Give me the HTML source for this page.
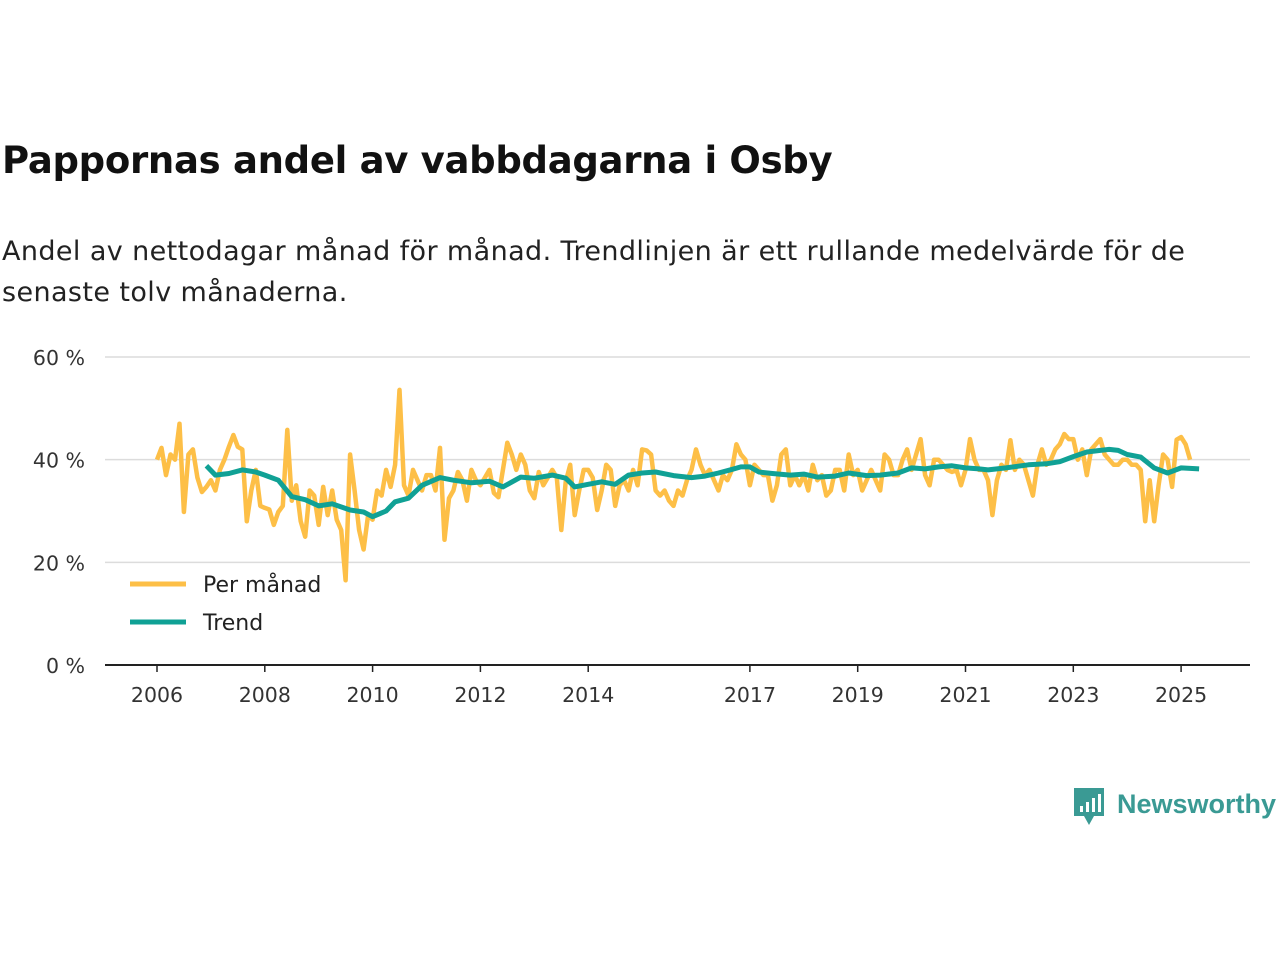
<!DOCTYPE html>
<html><head><meta charset="utf-8">
<style>
body{margin:0;background:#fff;font-family:"DejaVu Sans","Liberation Sans",sans-serif;}
#wrap{position:relative;width:1280px;height:960px;overflow:hidden;}
h1{position:absolute;left:2px;top:139px;margin:0;font-size:37px;font-weight:bold;color:#111;letter-spacing:-0.3px}
p.sub{position:absolute;left:2px;top:231px;margin:0;font-size:27px;line-height:41px;color:#222;width:1230px;letter-spacing:0.4px}
</style></head><body>
<div id="wrap">
<h1>Pappornas andel av vabbdagarna i Osby</h1>
<p class="sub">Andel av nettodagar månad för månad. Trendlinjen är ett rullande medelvärde för de senaste tolv månaderna.</p>
<svg id="chart" width="1280" height="960" style="position:absolute;left:0;top:0"></svg>
</div>
<script>
const yTicks=[0,20,40,60];
const yTickLabels=["0 %","20 %","40 %","60 %"];
const xTickYears=[2006,2008,2010,2012,2014,2017,2019,2021,2023,2025];
const monthly=[
40,42.3,37,41,40,47,29.8,41,42,36.5,33.7,34.7,
36,34,38,40,42.5,44.8,42.5,42,28,34,38,31,
30.6,30.3,27.3,29.8,31,45.8,32,35,28,25,34,33,
27.3,34.7,29.2,34,28.3,26.3,16.5,41,34,26.3,22.5,29.2,
28.3,34,33,38,34.7,39,53.6,35,33,38,36,34,
37,37,34,42.3,24.4,32.5,34,37.6,36,32,38,36,
35,36.5,38,33.5,32.7,38,43.3,41,38,41,39,34,
32.5,37.6,35,36.5,38,36.5,26.3,35.7,39,29.2,34,38,
38,36.5,30.2,34,39,38,31,35,36,34,38,35,
42,41.8,41,34,33,34,32,31,34,33,36,38,
42,39,37,38,36,34,37,36,38,43,41,40,
35,39,38,37,37,32,35,41,42,35,37,35,
37,34,39,36,37,33,34,38,38,34,41,37,
38,34,36,38,36,34,41,40,37,37,40,42,
38,41,44,37,35,40,40,39,38,37.6,38,35,
38,44,40,38,38,36,29.2,36,39,38,43.8,38,
40,39,36,33,39,42,39,40,42,43,45,44,
44,40,42,37,42,43,44,41,40,39,39,40,
40,39,39,38,28,36,28,35,41,40,34.7,43.9,
44.4,43,40];
const trendMonths=[11,13,16,19,22,24,27,30,33,36,39,43,46,48,51,53,56,59,63,66,70,74,77,81,84,88,91,93,96,99,102,105,108,111,115,119,122,125,128,130,132,134,137,141,144,147,151,154,158,161,165,168,171,174,177,180,183,185,189,194,198,201,204,207,210,212,214,216,219,222,225,228,230,232];
const trendValues=[38.8,37,37.3,38,37.6,37,36,32.8,32.2,31,31.4,30.2,29.8,28.9,30,31.8,32.5,35,36.5,36,35.5,35.8,34.7,36.6,36.4,37,36.4,34.7,35.2,35.7,35.2,37,37.4,37.6,36.9,36.5,36.8,37.4,38.1,38.6,38.6,37.6,37.3,37,37.2,36.6,36.8,37.4,36.9,37,37.4,38.4,38.2,38.6,38.8,38.4,38.2,38,38.4,39,39.2,39.6,40.6,41.5,41.8,42,41.8,41,40.5,38.4,37.4,38.4,38.3,38.2];

const svg=document.getElementById('chart');
const NS='http://www.w3.org/2000/svg';
const FF='DejaVu Sans, Liberation Sans, sans-serif';
const x=m=>157+m*53.9/12;
const y=v=>665-v*5.133;
function mk(tag,attrs){const e=document.createElementNS(NS,tag);for(const k in attrs)e.setAttribute(k,attrs[k]);svg.appendChild(e);return e;}

yTicks.forEach((t,i)=>{
  if(t>0){const g=mk('line',{x1:105,x2:1250,y1:y(t),y2:y(t),stroke:'#dcdcdc','stroke-width':1.5});
  
  }
  const tx=mk('text',{x:85,y:y(t)+8,'text-anchor':'end','font-size':20.5,fill:'#333','font-family':FF});
  tx.textContent=yTickLabels[i];
  
  
});
const ax=mk('line',{x1:105,x2:1250,y1:665,y2:665,stroke:'#222','stroke-width':2});


xTickYears.forEach(yr=>{
  const xx=x((yr-2006)*12);
  const tk=mk('line',{x1:xx,x2:xx,y1:665,y2:672,stroke:'#222','stroke-width':1.5});
  
  
  const tx=mk('text',{x:xx,y:702,'text-anchor':'middle','font-size':20.5,fill:'#333','font-family':FF});
  tx.textContent=yr;
  
  
});
const mp=monthly.map((v,i)=>x(i).toFixed(1)+','+y(v).toFixed(1)).join(' ');
const ml=mk('polyline',{points:mp,fill:'none',stroke:'#fdbf47','stroke-width':4.5,'stroke-linejoin':'round'});


const tp=trendValues.map((v,i)=>x(trendMonths[i]).toFixed(1)+','+y(v).toFixed(1)).join(' ');
const tl=mk('polyline',{points:tp,fill:'none',stroke:'#10a195','stroke-width':5,'stroke-linejoin':'round'});



[['Per månad','#fdbf47',584],['Trend','#10a195',622]].forEach(([lab,c,yy])=>{
  const l=mk('line',{x1:130,x2:186,y1:yy,y2:yy,stroke:c,'stroke-width':5});
  
  
  const t=mk('text',{x:203,y:yy+8,'font-size':22,fill:'#222','font-family':FF});
  t.textContent=lab;
  
  
});
const ic=mk('path',{d:'M1074 788 h30 v28 h-10 l-5 9 l-5 -9 h-10 z',fill:'#3a9a94'});


[[1080,806],[1086,802],[1092,798],[1098,794]].forEach(([bx,by])=>{
  const b=mk('rect',{x:bx,y:by,width:3,height:812-by,fill:'#fff'});
  
  
});
const lt=mk('text',{x:1117,y:813,'font-size':27,'font-weight':'bold',fill:'#3a9a94','font-family':'Liberation Sans, sans-serif'});
lt.textContent='Newsworthy';


</script>
</body></html>
